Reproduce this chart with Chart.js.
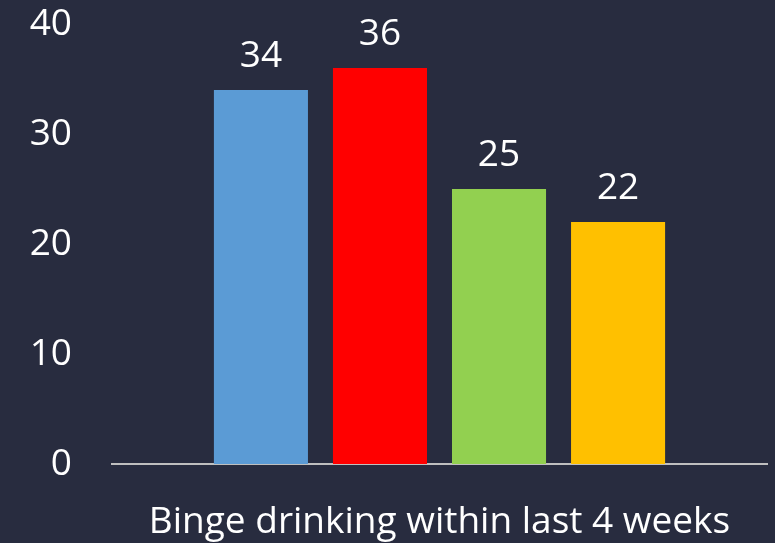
<!DOCTYPE html>
<html lang="en">
  <head>
    <meta charset="UTF-8" />
    <title>Binge drinking chart</title>
    <script src="https://cdn.jsdelivr.net/npm/chart.js"></script>
    <style>
      html, body { margin: 0; padding: 0; background: #282c3f; }
      #wrap { width: 775px; height: 543px; }
    </style>
  </head>
  <body>
    <div id="wrap"><canvas id="chart"></canvas></div>

    <script>
      // data
      const categories = ["Binge drinking within last 4 weeks"];
      const seriesNames = ["Group 1", "Group 2", "Group 3", "Group 4"];
      const seriesValues = [[34], [36], [25], [22]];
      const seriesColors = ["#5b9bd5", "#ff0000", "#92d050", "#ffc000"];
      const yTicks = [0, 10, 20, 30, 40];

      const FONT = "'Open Sans', sans-serif";
      const SIZE = 37;

      // value labels above each bar
      const valueLabels = {
        id: "valueLabels",
        afterDatasetsDraw(chart) {
          const ctx = chart.ctx;
          ctx.save();
          ctx.fillStyle = "#ffffff";
          ctx.font = SIZE + "px " + FONT;
          ctx.textAlign = "center";
          ctx.textBaseline = "alphabetic";
          chart.data.datasets.forEach((ds, i) => {
            chart.getDatasetMeta(i).data.forEach((bar, j) => {
              ctx.fillText(String(ds.data[j]), bar.x, bar.y - 23);
            });
          });
          ctx.restore();
        },
      };

      new Chart(document.getElementById("chart"), {
        type: "bar",
        data: {
          labels: categories,
          datasets: seriesNames.map((name, i) => ({
            label: name,
            data: seriesValues[i],
            backgroundColor: seriesColors[i],
            categoryPercentage: 0.727,
            barPercentage: 0.79,
          })),
        },
        options: {
          responsive: true,
          maintainAspectRatio: false,
          animation: false,
          layout: { padding: { top: 24, right: 8, bottom: 0, left: 0 } },
          plugins: { legend: { display: false }, tooltip: { enabled: false } },
          scales: {
            x: {
              afterFit(axis) {
                axis.height = 79;
                axis.paddingTop = 0;
                axis.paddingBottom = 0;
              },
              grid: { display: false, drawTicks: false },
              border: { display: true, color: "#bfbfbf", width: 2 },
              ticks: { color: "#ffffff", font: { family: FONT, size: SIZE }, padding: 36 },
            },
            y: {
              min: 0,
              max: 40,
              afterBuildTicks(axis) {
                axis.ticks = yTicks.map((v) => ({ value: v }));
              },
              afterFit(axis) {
                axis.width = 112;
                axis.paddingTop = 0;
                axis.paddingBottom = 0;
              },
              grid: { display: false, drawTicks: false },
              border: { display: false },
              ticks: { color: "#ffffff", font: { family: FONT, size: SIZE }, padding: 40 },
            },
          },
        },
        plugins: [valueLabels],
      });
    </script>
  </body>
</html>
